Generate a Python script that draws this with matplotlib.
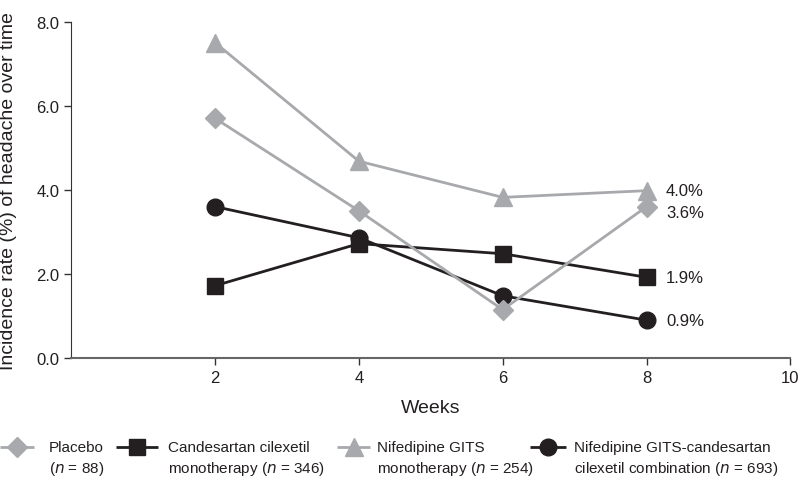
import matplotlib.pyplot as plt
from matplotlib.lines import Line2D

plt.rcParams['font.family'] = ['Liberation Sans', 'DejaVu Sans']

# data
weeks = [2, 4, 6, 8]
placebo = [5.7, 3.5, 1.15, 3.6]
candesartan = [1.72, 2.72, 2.48, 1.92]
nifedipine = [7.5, 4.68, 3.82, 3.98]
combination = [3.6, 2.86, 1.48, 0.9]

end_labels = ['3.6%', '1.9%', '4.0%', '0.9%']
legend_first = ['Placebo', 'Candesartan cilexetil', 'Nifedipine GITS', 'Nifedipine GITS-candesartan']
legend_second = ['($n$ = 88)', 'monotherapy ($n$ = 346)', 'monotherapy ($n$ = 254)',
                 'cilexetil combination ($n$ = 693)']

grey = '#a7a9ac'
dark = '#231f20'

fig = plt.figure(figsize=(8.0, 4.81), dpi=100)
ax = fig.add_axes([0.089, 0.2536, 0.899, 0.6994])

lw = 2.0
h_cand, = ax.plot(weeks, candesartan, color=dark, lw=lw, marker='s', ms=11, zorder=3)
h_comb, = ax.plot(weeks, combination, color=dark, lw=lw, marker='o', ms=12, zorder=4)
h_plac, = ax.plot(weeks, placebo, color=grey, lw=lw, marker='D', ms=10, zorder=5)
h_nife, = ax.plot(weeks, nifedipine, color=grey, lw=lw, marker='^', ms=13, zorder=6)

# value labels at week 8
offsets = [-0.15, 0.0, 0.0, 0.0]
for series, lab, dy in zip([placebo, candesartan, nifedipine, combination], end_labels, offsets):
    ax.annotate(lab, (weeks[-1], series[-1] + dy), xytext=(14, 0), textcoords='offset points',
                va='center', ha='left', fontsize=12, color=dark)

ax.set_xlim(0, 10)
ax.set_ylim(0, 8)
ax.set_xticks([2, 4, 6, 8, 10])
ax.set_yticks([0, 2, 4, 6, 8])
ax.set_yticklabels(['0.0', '2.0', '4.0', '6.0', '8.0'])
ax.tick_params(labelsize=12, colors='#333333', length=5, width=1.0, labelcolor=dark)

for side in ['top', 'right']:
    ax.spines[side].set_visible(False)
ax.spines['left'].set_color('#333333')
ax.spines['bottom'].set_color('#666666')
ax.spines['bottom'].set_linewidth(1.5)

ax.set_xlabel('Weeks', fontsize=14, color=dark, labelpad=10)
ax.set_ylabel('Incidence rate (%) of headache over time', fontsize=14, color=dark)
ax.yaxis.set_label_coords(-0.076, 0.5)

# legend drawn by hand so the marker sits on the first text line
handles = [h_plac, h_cand, h_nife, h_comb]
line_x = [(0.0, 0.042), (0.145, 0.198), (0.421, 0.463), (0.662, 0.708)]
text_x = [0.061, 0.21, 0.471, 0.717]
y1, y2 = 0.068, 0.024
for h, (xa, xb), tx, t1, t2 in zip(handles, line_x, text_x, legend_first, legend_second):
    fig.add_artist(Line2D([xa, xb], [y1, y1], transform=fig.transFigure, color=h.get_color(),
                          lw=lw, solid_capstyle='butt'))
    fig.add_artist(Line2D([(xa + xb) / 2], [y1], transform=fig.transFigure, color=h.get_color(),
                          marker=h.get_marker(), ms=h.get_markersize(), lw=0))
    fig.text(tx, y1, t1, fontsize=11, color=dark, va='center', ha='left')
    fig.text(tx, y2, t2, fontsize=11, color=dark, va='center', ha='left')

fig.savefig('out.png', dpi=100)
